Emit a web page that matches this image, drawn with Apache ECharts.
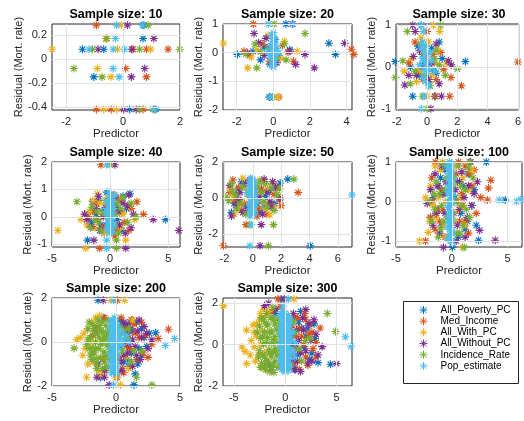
<!DOCTYPE html>
<html><head><meta charset="utf-8">
<script src="https://cdn.jsdelivr.net/npm/echarts@6/dist/echarts.min.js"></script>
<style>html,body{margin:0;padding:0;background:#fff}#c{width:524px;height:421px}</style>
</head><body><div id="c"></div>
<script>
const NAMES = ['All_Poverty_PC','Med_Income','All_With_PC','All_Without_PC','Incidence_Rate','Pop_estimate'];
const COLORS = ['#0072BD','#D95319','#EDB120','#7E2F8E','#77AC30','#4DBEEE'];
const SIZES = [10,20,30,40,50,100,200,300];

// tick labels per panel
const xTicks = [[-2,0,2],[-2,0,2,4],[-2,0,2,4,6],[-5,0,5],[-2,0,2,4,6],[-5,0,5],[-5,0,5],[-5,0,5]];
const yTicks = [[-0.4,-0.2,0,0.2],[-2,-1,0,1],[-1,0,1],[-1,0,1,2],[-2,0,2],[-1,0,1],[-2,0,2],[-2,0,2]];
const xRange = [[-2.5,2],[-2.75,4.3],[-2.05,6.05],[-5,6],[-2.1,7],[-5,6.3],[-5,5],[-6.05,6.5]];
const yRange = [[-0.425,0.29],[-2,1],[-1.03,1.03],[-1.1,2],[-2.72,2],[-1.15,1],[-2,2],[-2,2.25]];

// ---- Sample size 10
const n10 = [
 [[-1.43,0.08],[-0.68,0.08],[0.73,0.28],[0.7,0.17],[-1.03,-0.15],[0.23,-0.42],[1.15,-0.42]],
 [[-0.94,0.28],[0.35,0.08],[0.82,0.08],[1.58,0.08],[0.09,-0.08],[0.82,-0.15],[-0.94,-0.42],[-0.42,-0.42],[0.7,-0.42],[-0.6,0.17]],
 [[-0.06,0.28],[-0.6,0.17],[-2.49,0.08],[-0.2,0.08],[0.97,0.08],[-0.9,-0.08],[-0.43,-0.15],[-0.68,-0.42],[-0.23,-0.42]],
 [[0.15,0.28],[1.08,0.17],[-0.88,0.08],[0.3,0.08],[0.76,-0.08],[0.29,-0.15],[0.02,-0.42],[0.46,-0.42]],
 [[0.88,0.28],[-0.57,0.17],[-1.08,0.08],[0.58,0.08],[1.99,0.08],[-1.73,-0.08],[-0.74,-0.15],[0.58,-0.42],[1.05,-0.42]],
 [[-0.23,0.28],[0.68,0.28],[-0.27,0.17],[-1.2,0.08],[-0.35,0.08],[0.05,0.08],[-0.35,-0.08],[-0.14,-0.15],[1.1,-0.42]]
];
// ---- Sample size 20
const n20 = [
 [[-1.96,-0.06],[3.04,0.33],[3.4,-0.06],[0.69,1],[-0.22,-1.55],[-0.5,0.2],[-0.2,-0.4],[0.9,0.1],[-1.1,0.05],[0.3,-0.1],[-0.7,-0.25],[0.1,0.45]],
 [[-1.09,1],[4.27,0.12],[4.4,-0.06],[1.1,-0.3],[0.3,-1.55],[-1.3,-0.1],[-0.6,0.3],[0.5,0.25],[-0.2,-0.3],[0.8,0.02],[-1.6,0.05]],
 [[-2.73,0.33],[-1.4,-0.53],[0.25,-1.55],[0.6,0.4],[-0.9,0.1],[-0.3,0.6],[1.3,0.05],[0.4,-0.2],[-1.2,-0.15],[0.0,0.2]],
 [[-1.05,0.67],[1.04,1],[3.9,0.33],[2.24,-0.53],[1.73,-0.06],[1.22,-0.41],[-0.8,0.35],[-0.4,0.5],[-1.4,0.0],[-0.5,-0.1],[0.9,0.05],[-0.2,0.2],[0.2,-0.35]],
 [[0.04,1],[1.73,0.67],[-0.9,-0.53],[-0.05,-1.55],[-1.0,0.3],[-0.7,0.02],[0.6,0.3],[-1.5,-0.05],[0.2,-0.15],[-0.3,0.1],[0.7,-0.25]],
 [[-0.27,1],[1.08,1],[0,0.7],[-0.1,0.6],[0.05,0.5],[-0.05,0.4],[0.1,0.3],[-0.15,0.25],[0,0.15],[0.05,0.05],[-0.1,-0.05],[0.1,-0.1],[0,-0.2],[-0.05,-0.3],[0.1,-0.38],[-0.1,-0.45],[0,-0.5],[-0.15,-1.55],[-0.3,0.05],[0.3,0.0],[0.2,0.15],[-0.2,-0.15]]
];
// ---- Sample size 30
const n30 = [
 [[-0.38,1],[2.53,0.13],[-2.1,0.13],[-0.95,-0.7],[0.5,-0.7],[-0.6,0.5],[0.3,0.45],[-0.2,0.1],[0.6,-0.15],[-1.1,0.0],[0.1,-0.35],[1.0,0.2],[-0.5,-0.2],[0.8,0.6],[-0.3,0.3],[0.4,-0.1]],
 [[0,0.85],[6,0.12],[2.27,-0.45],[1.58,-0.25],[0.55,-0.7],[1.5,-0.7],[-1.2,0.1],[-0.8,0.6],[0.4,0.3],[-0.3,-0.3],[1.1,-0.05],[-0.6,-0.1],[0.2,0.05],[0.9,0.35],[-0.1,0.2],[0.6,-0.3]],
 [[0.42,1],[0.84,0.85],[0,-0.7],[-0.4,0.7],[0.7,0.4],[-1.0,0.2],[-0.2,0.35],[0.3,-0.2],[1.3,0.1],[-0.7,-0.35],[0.5,0.1],[-1.5,-0.1],[-0.5,-0.1],[0.1,0.6]],
 [[-0.95,1],[-0.78,0.85],[-1.47,-0.43],[0.25,-1],[0.95,-0.7],[1.4,0.15],[-0.5,0.4],[0.6,0.55],[-1.2,-0.2],[0.1,-0.3],[-0.3,0.0],[0.8,-0.4],[1.6,0.05],[-0.9,0.25],[0.3,0.1],[-0.7,-0.2]],
 [[0.9,1],[-1.3,0.85],[2,-0.05],[-2.1,-0.25],[-0.3,-0.7],[0,-1],[-1.6,0.15],[-0.8,-0.1],[0.5,0.2],[1.2,-0.2],[-0.4,0.55],[0.2,-0.45],[0.8,0.05],[-1.1,-0.4],[-0.2,-0.2],[0.6,0.4]],
 [[-0.38,1],[-0.25,0.85],[-0.2,-0.7],[-0.38,-1],[-0.3,0.6],[-0.1,0.5],[-0.2,0.4],[0,0.3],[-0.3,0.2],[-0.1,0.1],[0.1,0],[-0.2,-0.05],[0,-0.15],[-0.3,-0.25],[-0.1,-0.35],[0.1,-0.45],[0.3,0.15],[0.5,-0.1],[-0.5,0.05],[0.2,0.35],[-0.4,0.45],[0,-0.05],[-0.2,0.2]]
];
// ---- Sample size 40
const n40 = [
 [[4.77,-0.1],[1.7,0.84],[-1.5,0.55],[-1.94,-0.85],[-0.3,0.9],[0.5,0.4],[-0.8,-0.3],[1.0,-0.5],[-1.2,0.1],[0.8,0.2],[-0.5,-0.6],[1.4,0.3],[0.2,-0.2],[-1.0,0.6],[-0.7,0.2],[0.3,-0.45],[1.1,0.75],[-1.6,-0.2],[0.6,-0.1],[-0.4,0.35]],
 [[-0.8,1.9],[2.86,0.09],[2.3,0.55],[-0.9,-1.15],[-1.5,0.2],[0.9,0.6],[-0.6,-0.4],[1.2,-0.2],[0.3,0.8],[-1.1,-0.1],[0.6,-0.5],[1.8,0.3],[-0.3,0.4],[0.4,-0.7],[-1.9,0.0],[1.6,-0.5],[-0.2,-0.5],[0.2,0.1],[-1.2,0.5],[1.0,0.15]],
 [[-4.5,-0.5],[-2.5,-0.1],[-1.1,0.84],[-2.1,-1.15],[1.34,-0.85],[-1.8,0.2],[-0.9,0.5],[0.7,0.7],[-1.3,-0.4],[1.1,0.1],[-0.5,-0.6],[0.3,0.3],[2.1,-0.1],[-0.7,0.1],[-2.0,-0.3],[0.9,-0.4],[-1.5,0.6],[0.5,-0.3],[1.6,0.4],[-0.2,0.7]],
 [[0.4,1.9],[3.7,-0.1],[5.9,-0.5],[-1.4,-0.85],[1.34,-1.15],[1.5,0.4],[-2.0,-0.1],[1.1,0.5],[-1.2,0.3],[0.8,-0.3],[-0.6,0.0],[1.3,-0.6],[0.5,0.7],[-1.6,-0.35],[2.0,0.1],[-2.2,0.1],[-0.9,-0.5],[0.7,0.2],[1.8,-0.4],[-0.3,-0.3],[0.2,0.45],[-1.0,0.75],[1.6,0.8]],
 [[0.0,1.9],[-2.86,0.55],[0.54,-1.15],[0.54,-0.85],[-1.6,0.35],[2.2,0.0],[-1.0,-0.2],[0.9,0.3],[-0.4,0.6],[1.5,-0.2],[-0.8,-0.5],[0.4,0.1],[-1.3,-0.1],[0.7,-0.6],[-1.7,-0.4],[-0.5,0.1],[1.1,0.7],[0.3,-0.35],[-1.1,0.2],[1.8,0.5],[0.6,0.5]],
 [[-0.3,1.9],[-0.3,-0.85],[-0.3,-1.15],[0.4,0.8],[-0.2,0.6],[0,0.55],[-0.1,0.45],[0.1,0.4],[-0.2,0.3],[0,0.25],[0.1,0.15],[-0.1,0.1],[-0.25,0.05],[0.05,0],[-0.15,-0.05],[0.15,-0.1],[0,-0.15],[-0.2,-0.2],[0.1,-0.25],[-0.1,-0.3],[0.05,-0.35],[-0.2,-0.4],[0.1,-0.45],[-0.05,-0.5],[0,-0.6],[-0.3,0.2],[0.25,0.3],[0.3,-0.3],[-0.15,0.5],[0.05,0.35],[-0.05,0.2],[0.15,0.05],[-0.1,-0.1],[0.05,-0.2],[-0.15,-0.35],[0.15,-0.55],[0.2,0.55],[-0.25,-0.5],[-0.1,0.9],[0.1,0.7],[0,0.8]]
];
// ---- Sample size 50
const n50 = [
 [[2.47,1.05],[1.93,0.83],[4.05,-2.65],[-0.8,0.9],[0.6,0.5],[-1.2,0.2],[1.5,-0.3],[-0.5,-0.5],[0.9,0.1],[-1.5,-0.8],[0.2,0.7],[1.2,0.4],[-0.9,-0.2],[0.5,-0.8],[-1.0,0.5],[0.3,-0.1],[1.6,0.6],[-0.3,0.3],[0.8,-0.5],[-1.3,-0.3]],
 [[3.2,0.3],[2,-0.43],[-0.47,-1.48],[-2.07,-2.65],[-1.4,1.0],[-1.0,0.6],[0.8,0.9],[1.5,0.2],[-0.6,-0.3],[0.4,-0.6],[1.0,-0.9],[-1.3,-0.1],[0.1,0.3],[1.7,0.6],[-0.8,-0.7],[-1.6,0.3],[0.6,0.5],[-0.3,0.9],[1.2,-0.3],[-1.0,-0.2],[0.3,-1.0],[1.9,-0.1]],
 [[1.2,-0.93],[-0.7,1.1],[-1.6,0.5],[0.3,0.8],[-1.1,-0.5],[1.4,0.9],[0.6,-0.2],[-0.4,0.4],[0.9,-0.6],[-1.3,-0.9],[1.8,0.1],[-0.2,-0.8],[-1.4,0.1],[0.1,-0.5],[1.0,0.5],[-0.8,-0.2],[0.5,1.0],[1.5,-0.5],[-0.6,0.7]],
 [[0.6,-1.48],[0.52,-2.65],[0.8,1.05],[-1.5,-1.0],[1.3,-0.5],[1.6,0.6],[-0.9,0.3],[0.3,-0.3],[-0.5,0.8],[1.0,0.3],[-1.2,-0.4],[0.7,-0.9],[1.9,0.0],[-0.3,-0.6],[-1.6,0.7],[-0.7,-0.8],[0.1,0.5],[1.4,0.9],[-1.0,-0.1],[0.5,0.1],[1.2,-0.2],[-0.2,1.0]],
 [[2.9,1.05],[1.46,-1.48],[-0.2,-1.48],[1.1,-2.65],[-1.9,0.05],[-1.7,-0.15],[1.0,-0.5],[-0.7,0.6],[0.5,0.9],[1.3,0.6],[-1.1,-0.6],[0.2,-0.4],[-0.3,0.1],[0.8,-0.2],[1.7,0.2],[-1.4,0.4],[-1.5,0.8],[-0.9,-0.3],[0.6,0.3],[-0.5,-0.9],[1.5,-0.7],[0.9,0.8],[-1.2,0.15],[0.3,0.6],[1.9,0.5]],
 [[-0.2,-2.65],[-0.1,-1.48],[7.0,0.18],[-0.15,1.1],[0,1.0],[-0.2,0.9],[0.1,0.8],[-0.1,0.7],[0,0.6],[-0.2,0.5],[0.1,0.4],[-0.1,0.3],[0.05,0.2],[-0.2,0.1],[0,0],[0.1,-0.1],[-0.15,-0.2],[0,-0.3],[-0.1,-0.4],[0.1,-0.5],[-0.2,-0.6],[0,-0.7],[-0.1,-0.8],[0.05,-0.9],[-0.2,-1.0],[-0.4,0.3],[0.3,-0.2],[-0.05,1.05],[0.1,0.9],[-0.1,0.5],[0.05,0.35],[-0.15,0.15],[0.1,-0.05],[-0.1,-0.25],[0.05,-0.45],[-0.15,-0.65],[0.1,-0.85],[-0.25,0.75],[-0.25,-0.35]]
];
// ---- Sample size 100
const n100 = [
 [[3.1,1],[4.8,0.04],[0.06,-1.16],[2.4,-0.98],[1.5,0.7],[-1.2,0.4],[0.8,-0.3],[-0.9,-0.6],[1.8,-0.1],[0.5,0.5],[-1.6,0.1],[1.2,-0.7],[-0.6,0.8],[2.0,0.3],[-1.9,-0.4],[-0.7,0.2],[0.3,0.1],[1.0,0.4],[-1.3,-0.2],[0.6,-0.9],[1.4,-0.5],[-0.4,0.9],[2.2,-0.6],[-1.0,0.6]],
 [[-1.47,1],[3.3,0.34],[3.5,0.54],[3.2,0.04],[-2.35,-1],[-1.8,0.6],[-1.2,-0.2],[1.2,0.9],[1.8,0.4],[0.7,-0.5],[-0.9,0.3],[2.2,-0.3],[-1.5,-0.7],[0.9,0.2],[1.5,-0.8],[-0.6,-0.9],[2.6,0.1],[-1.7,0.0],[-0.5,0.5],[0.4,0.7],[1.0,-0.1],[-1.1,-0.5],[0.2,-0.3],[1.6,0.7],[-1.9,-0.4],[0.6,1.0],[-0.8,-0.2],[2.0,0.8],[1.2,-0.5],[0.5,0.0]],
 [[-0.82,1],[-2.9,-1],[-2.1,-0.78],[-2.35,0.1],[0.97,-1.16],[-1.9,0.4],[-1.4,-0.4],[1.0,0.6],[-1.0,0.8],[0.6,-0.2],[-1.7,-0.1],[1.5,0.3],[-0.7,-0.6],[0.4,0.9],[-1.2,0.1],[0.2,0.4],[-0.6,0.0],[1.2,-0.6],[-2.0,-0.5],[0.8,0.1],[-1.5,0.9],[1.8,0.8],[-0.5,-0.9],[0.3,-0.5]],
 [[1.7,1],[2.3,0.5],[2.5,-0.73],[-0.74,-1.16],[3.9,-0.98],[-2.2,-0.05],[-1.5,0.7],[1.4,-0.4],[-1.1,-0.8],[0.9,0.75],[-0.8,0.2],[1.8,-0.1],[0.5,-0.6],[-1.9,0.3],[1.1,0.1],[-0.6,-0.3],[-1.3,0.4],[-0.5,0.5],[0.3,0.3],[1.5,0.4],[-1.7,-0.6],[0.7,-0.2],[1.2,-0.9],[-0.9,0.9],[2.0,0.2],[0.4,-1.0],[-1.4,-0.3],[0.7,0.5]],
 [[-0.82,0.95],[1.12,-1.16],[1.5,0.85],[-1.4,0.5],[0.8,0.4],[-1.8,-0.5],[1.3,-0.2],[-0.9,-0.1],[0.6,0.9],[-1.2,-0.9],[1.9,0.6],[0.4,-0.8],[-0.5,0.6],[1.0,-0.6],[-1.6,0.2],[-1.1,0.2],[0.4,0.0],[-0.7,-0.5],[1.6,-0.4],[-1.5,-0.2],[0.9,-0.1],[-0.6,0.3],[1.2,0.3],[-2.0,0.0],[0.2,0.6],[-1.0,-0.7],[0.7,-0.8],[1.6,1.0],[-0.4,-0.4]],
 [[-0.2,1],[4.26,0.04],[5.8,0],[6.2,0.06],[-0.2,0.9],[-0.1,0.8],[-0.25,0.7],[0,0.6],[-0.15,0.5],[-0.3,0.4],[-0.05,0.3],[-0.2,0.2],[0,0.1],[-0.3,0],[-0.1,-0.1],[-0.25,-0.2],[0,-0.3],[-0.15,-0.4],[-0.3,-0.5],[-0.05,-0.6],[-0.2,-0.7],[0,-0.8],[-0.25,-0.9],[-0.1,-1.0],[-0.35,0.85],[0.05,0.75],[-0.1,0.65],[-0.3,0.55],[0.05,0.45],[-0.1,0.35],[-0.35,0.25],[0.05,0.15],[-0.15,0.05],[0.05,-0.05],[-0.35,-0.15],[-0.1,-0.25],[-0.3,-0.35],[0.05,-0.45],[-0.1,-0.55],[-0.35,-0.65],[0.05,-0.75],[-0.15,-0.85],[-0.35,-0.95],[0.05,-1.0],[-0.3,0.95],[0,0.95]]
];
// ---- Sample size 200
const n200 = [
 [[-1.4,1.9],[3.1,0.42],[1.4,-1.95],[-1.2,-1.6],[1.5,-1.45],[2.0,0.6],[1.2,-0.5],[0.8,0.3],[2.4,-0.2],[1.6,0.9],[0.6,-0.9],[2.2,0.2],[1.0,-1.1],[0.5,0.8],[1.8,-0.3],[0.4,-0.2],[1.3,0.5],[2.6,0.4],[0.9,-0.8],[1.7,-1.0],[0.3,1.0],[2.0,-0.6],[0.7,0.0],[-1.0,1.1],[1.1,0.9]],
 [[0.1,1.9],[4.1,0.58],[3.3,0.16],[0.1,-1.6],[-1.5,0.7],[1.4,0.8],[2.1,-0.5],[0.7,0.6],[1.8,0.2],[-1.0,-0.8],[0.5,-1.2],[2.5,-0.7],[-1.8,0.3],[1.1,-0.3],[0.4,1.1],[1.0,0.2],[1.6,-0.8],[2.3,0.3],[0.3,-0.7],[1.5,0.4],[0.8,-0.2],[2.8,-0.1],[-0.9,1.1],[1.2,1.0],[0.6,-1.4],[2.0,0.9]],
 [[-0.4,1.9],[0.67,1.9],[-3.06,0.1],[-2.2,-1.0],[-2.3,-1.6],[0.35,-1.95],[0.0,-1.6],[-1.9,0.9],[-2.5,0.4],[-1.7,-0.5],[-2.4,-0.3],[1.3,1.0],[0.8,-0.7],[-1.4,-1.3],[-2.0,0.0],[-2.2,0.6],[-1.6,1.1],[-1.8,-0.9],[-2.6,-0.6],[-1.2,-1.5],[-0.8,-1.3],[1.0,-1.2],[-2.8,0.2],[-1.3,1.2]],
 [[-1.0,1.9],[-1.5,-1.6],[-0.9,-1.6],[-0.53,-1.95],[2.5,-0.3],[1.7,0.5],[0.9,-0.5],[1.3,0.1],[-1.4,-1.0],[2.2,0.7],[0.6,0.9],[1.9,-0.8],[0.4,-1.3],[1.1,0.6],[-1.6,0.5],[0.3,0.3],[0.8,0.8],[1.5,-0.2],[2.0,0.2],[0.6,-0.6],[1.3,-1.1],[2.4,0.4],[1.0,-0.1],[0.4,-0.9],[1.8,1.0],[-0.9,-1.3],[2.8,0.1],[1.6,-0.6],[0.9,0.4]],
 [[1.6,-1.6],[2.8,-1.95],[-3.27,-0.28],[-2.2,0.6],[-2.0,0.2],[-2.1,-0.3],[-1.9,-0.8],[-1.8,0.8],[-1.7,0.4],[-1.6,0.0],[-1.7,-0.5],[-1.5,-1.0],[-1.4,1.0],[-1.4,0.6],[-1.3,0.2],[-1.35,-0.3],[-1.2,-0.7],[-1.1,0.9],[-1.0,0.45],[-1.05,0.0],[-0.95,-0.45],[-0.9,-0.9],[-0.8,0.75],[-0.75,0.3],[-0.7,-0.15],[-0.7,-0.6],[-0.6,1.0],[-0.55,0.55],[-0.5,0.1],[-0.5,-0.35],[-0.45,-0.8],[-2.3,-0.1],[-2.0,-0.6],[-1.55,-0.75],[-1.25,0.75],[-0.85,0.15],[-0.6,-1.1],[0.3,0.7],[0.9,0.2],[1.2,-0.9],[0.5,-0.4],[-2.2,0.1],[-1.85,-0.25],[-1.6,-0.3],[-1.45,0.35],[-1.2,-0.1],[-1.15,0.5],[-0.95,0.2],[-0.85,-0.65],[-0.65,0.4],[-0.6,-0.1],[-0.45,0.75],[-0.4,-0.55],[-1.75,0.6],[-1.9,-0.5],[-2.1,0.9],[-1.5,-1.2],[-0.75,-1.1],[-1.05,-1.2],[0.2,0.4],[0.6,0.5],[1.4,-0.4],[2.0,-0.4],[1.0,0.6],[0.1,-0.6]],
 [[-0.2,1.9],[-0.2,-1.95],[3.86,-0.16],[4.57,0.16],[-0.1,1.1],[-0.25,1.0],[0,0.9],[-0.15,0.8],[-0.3,0.7],[-0.05,0.6],[-0.2,0.5],[0.05,0.4],[-0.1,0.3],[-0.3,0.2],[0,0.1],[-0.2,0],[0.05,-0.1],[-0.1,-0.2],[-0.3,-0.3],[0,-0.4],[-0.15,-0.5],[-0.3,-0.6],[-0.05,-0.7],[-0.2,-0.8],[0.05,-0.9],[-0.1,-1.0],[-0.25,-1.1],[0,-1.2],[-0.15,-1.3],[-0.2,-1.4],[0.3,0.2],[0.5,-0.1],[0.4,0.5],[0.6,0.1],[-0.4,0.95],[-0.45,0.65],[-0.4,0.35],[-0.45,0.05],[-0.4,-0.25],[-0.45,-0.55],[-0.4,-0.85],[-0.4,-1.15],[0.1,0.75],[0.15,0.5],[0.2,0.0],[0.15,-0.3],[0.1,-0.6],[0.05,-1.1],[-0.35,-1.4],[0.05,-1.45],[0.8,0.3],[1.0,0.0],[0.3,-0.1],[0.25,0.35]]
];
// ---- Sample size 300
const n300 = [
 [[3.2,-0.87],[4.4,-0.95],[-0.4,2.2],[1.5,1.6],[2.2,0.8],[1.0,-1.2],[2.6,-0.4],[0.8,0.5],[1.8,-0.1],[-1.5,-1.0],[1.3,1.1],[2.9,0.3],[0.6,0.0],[1.6,0.8],[2.4,-0.7],[0.9,1.3],[1.2,-0.5],[2.0,0.4],[-1.0,1.5],[0.7,-0.8],[2.8,1.0],[-2.0,-1.1]],
 [[-0.7,2.2],[-0.5,1.85],[2.4,1.0],[3.4,0.8],[3.0,0.1],[2.0,-0.6],[1.2,1.3],[1.6,0.4],[0.9,-0.9],[2.7,-0.2],[1.9,1.5],[-1.8,-0.8],[1.4,-1.2],[0.7,0.9],[2.3,0.5],[0.6,0.3],[1.0,-0.2],[1.8,0.0],[2.6,0.6],[0.8,1.4],[1.4,0.8],[2.2,-1.0],[0.6,-1.1],[3.0,-0.6],[-1.3,1.6],[1.1,0.4],[2.0,1.2]],
 [[0.86,2.2],[-6,1.88],[-4.2,-0.12],[-3.76,0.7],[-3.1,0.95],[-3,-0.1],[-3.76,-0.92],[-3.9,-0.33],[-2.1,1.7],[-2.5,1.2],[-2.8,0.4],[-2.6,-0.5],[-2.3,-1.1],[-1.9,1.4],[-3.3,0.2],[-2.9,-0.8],[-2.4,0.0],[-2.2,0.7],[-2.0,-0.4],[-2.8,1.0],[-1.8,-1.2],[-3.4,-0.5],[-2.4,1.5],[-1.6,1.6],[-3.0,0.6]],
 [[-2,1.88],[-1.6,2.0],[-0.1,2.2],[5,-0.92],[2.8,1.2],[1.7,1.3],[2.2,-0.9],[3.2,-0.5],[1.1,0.7],[2.5,0.2],[0.9,-1.2],[1.5,-0.4],[-1.4,-1.2],[2.0,1.7],[3.6,-0.1],[0.6,0.6],[1.3,0.2],[2.0,-0.3],[0.7,-0.5],[1.8,0.7],[2.6,-0.8],[1.2,-0.8],[2.3,1.0],[0.8,1.5],[3.0,0.5],[1.5,-1.3],[-0.9,1.7],[1.0,0.0]],
 [[4.1,1.5],[4.9,0.63],[-1.2,1.8],[-0.2,1.6],[-2.5,0.9],[-2.4,0.3],[-2.5,-0.3],[-2.3,-0.9],[-2.1,1.2],[-2.0,0.6],[-2.1,0.0],[-2.0,-0.6],[-1.9,-1.2],[-1.7,0.95],[-1.7,0.35],[-1.6,-0.25],[-1.7,-0.85],[-1.4,1.3],[-1.35,0.65],[-1.3,0.05],[-1.35,-0.55],[-1.3,-1.1],[-1.0,1.0],[-1.0,0.4],[-0.95,-0.2],[-1.0,-0.8],[-0.7,1.25],[-0.65,0.7],[-0.7,0.1],[-0.6,-0.5],[-0.7,-1.1],[-1.1,-1.35],[-2.7,0.6],[-2.6,-0.6],[0.8,1.1],[1.6,-0.8],[2.0,0.2],[0.6,-0.4],[-2.3,1.3],[-2.2,0.4],[-2.2,-0.5],[-1.85,1.0],[-1.85,0.1],[-1.8,-0.9],[-1.5,0.6],[-1.5,-0.4],[-1.5,-1.3],[-1.15,1.2],[-1.15,0.25],[-1.15,-0.35],[-1.15,-1.0],[-0.85,0.75],[-0.8,-0.5],[-0.55,1.0],[-0.55,0.4],[-0.55,-0.2],[-0.55,-0.9],[-2.4,-1.1],[-1.8,1.5],[0.9,0.6],[1.3,-0.2],[2.4,0.3]],
 [[0.3,2.2],[5.86,0.38],[6.4,-0.08],[-0.3,1.6],[0,1.5],[0.3,1.4],[-0.4,1.3],[-0.1,1.2],[0.2,1.1],[0.45,1.0],[-0.3,0.9],[0,0.8],[0.3,0.7],[-0.45,0.6],[-0.15,0.5],[0.15,0.4],[0.45,0.3],[-0.3,0.2],[0,0.1],[0.3,0],[-0.45,-0.1],[-0.15,-0.2],[0.15,-0.3],[0.45,-0.4],[-0.3,-0.5],[0,-0.6],[0.3,-0.7],[-0.45,-0.8],[-0.15,-0.9],[0.15,-1.0],[0.4,-1.1],[-0.3,-1.2],[0,-1.3],[0.6,0.2],[0.8,-0.3],[0.7,0.6],[-0.2,1.85],[-0.45,1.45],[-0.15,1.35],[0.15,1.25],[0.45,1.2],[-0.3,1.05],[0,0.95],[0.3,0.85],[-0.45,0.75],[-0.15,0.65],[0.15,0.55],[0.45,0.5],[-0.3,0.35],[0,0.25],[0.3,0.15],[-0.45,0.05],[-0.15,-0.05],[0.15,-0.15],[0.45,-0.25],[-0.3,-0.35],[0,-0.45],[0.3,-0.55],[-0.45,-0.65],[-0.15,-0.75],[0.15,-0.85],[0.45,-0.95],[-0.3,-1.05],[0,-1.15],[0.3,-1.25],[-0.15,-1.25],[1.0,0.1],[0.9,-0.6]]
];
const PANELS = [n10,n20,n30,n40,n50,n100,n200,n300];

// layout (pixels)
const colLeft = [52,223,396], colWidth = [128,129,126];
const rowTop = [24,162,298], rowHeight = [86,85,88];
const yNameGap = [26.5,15.5,17,16.5,15.5,16,18,17];

const AST = 'path://M10,0L10,20M0,10L20,10M2.93,2.93L17.07,17.07M2.93,17.07L17.07,2.93';
const FONT = 'Liberation Sans, Arial, Helvetica, sans-serif';
const grid=[], xAxis=[], yAxis=[], series=[], title=[];
PANELS.forEach((panel,i)=>{
  const c=i%3, r=Math.floor(i/3);
  grid.push({left:colLeft[c],top:rowTop[r],width:colWidth[c],height:rowHeight[r],show:true,borderColor:'#262626',borderWidth:1,backgroundColor:'#fff',containLabel:false});
  title.push({text:'Sample size: '+SIZES[i],left:colLeft[c]+colWidth[c]/2,top:rowTop[r]-15.5,textAlign:'center',padding:0,
    textStyle:{fontFamily:FONT,fontSize:12.5,fontWeight:'bold',color:'#000'}});
  xAxis.push({gridIndex:i,type:'value',min:xRange[i][0],max:xRange[i][1],
    name:'Predictor',nameLocation:'middle',nameGap:18,nameTextStyle:{fontFamily:FONT,fontSize:11.5,color:'#262626'},
    axisLine:{show:false,onZero:false},axisTick:{show:true,inside:true,length:3,lineStyle:{color:'#262626'},customValues:xTicks[i]},
    axisLabel:{customValues:xTicks[i],margin:6,fontFamily:FONT,fontSize:11,color:'#262626'},
    splitLine:{show:false}});
  yAxis.push({gridIndex:i,type:'value',min:yRange[i][0],max:yRange[i][1],
    name:'Residual (Mort. rate)',nameLocation:'middle',nameGap:yNameGap[i],nameRotate:90,nameTextStyle:{fontFamily:FONT,fontSize:11,color:'#262626'},
    axisLine:{show:false,onZero:false},axisTick:{show:true,inside:true,length:3,lineStyle:{color:'#262626'},customValues:yTicks[i]},
    axisLabel:{customValues:yTicks[i],margin:5,fontFamily:FONT,fontSize:11,color:'#262626'},
    splitLine:{show:false}});
  // grid lines at tick values, drawn through the axis scales
  series.push({type:'scatter',xAxisIndex:i,yAxisIndex:i,data:[],z:1,silent:true,
    markLine:{silent:true,symbol:['none','none'],label:{show:false},animation:false,
      lineStyle:{color:'#e3e3e3',type:'solid',width:1},emphasis:{disabled:true},
      data:xTicks[i].map(v=>({xAxis:v})).concat(yTicks[i].map(v=>({yAxis:v})))}});
  panel.forEach((pts,k)=>{
    series.push({type:'scatter',name:NAMES[k],xAxisIndex:i,yAxisIndex:i,data:pts,z:2,
      symbol:AST,symbolSize:8,symbolKeepAspect:true,silent:true,clip:false,
      itemStyle:{color:'rgba(0,0,0,0)',borderColor:COLORS[k],borderWidth:1.1,opacity:1},
      emphasis:{disabled:true}});
  });
});

const chart = echarts.init(document.getElementById('c'),null,{renderer:'canvas'});
chart.setOption({
  animation:false,
  color:COLORS,
  title:title,
  grid:grid, xAxis:xAxis, yAxis:yAxis, series:series,
  legend:{orient:'vertical',left:419,top:305,itemWidth:24,itemHeight:8,itemGap:1.2,padding:0,
    data:NAMES.map((n,k)=>({name:n,icon:AST,itemStyle:{color:'rgba(0,0,0,0)',borderColor:COLORS[k],borderWidth:1}})),
    textStyle:{fontFamily:FONT,fontSize:10,color:'#000',lineHeight:10},selectedMode:false},
  graphic:[{type:'rect',left:403,top:301,shape:{width:115,height:82},style:{fill:'#fff',stroke:'#262626',lineWidth:1},z:-1}]
});
</script></body></html>
